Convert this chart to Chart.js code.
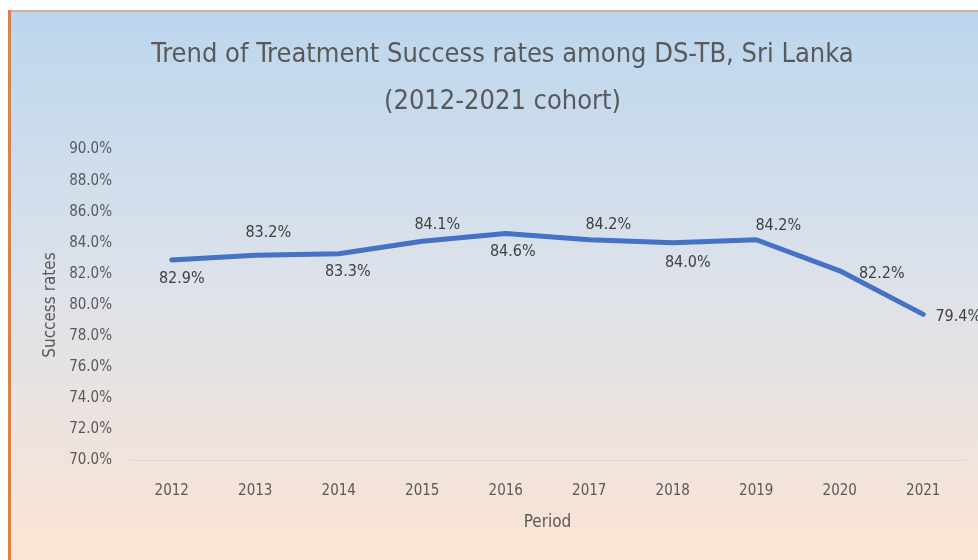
<!DOCTYPE html>
<html>
<head>
<meta charset="utf-8">
<script src="https://cdn.jsdelivr.net/npm/chart.js@4"></script>
<style>
  html, body { margin: 0; padding: 0; background: #fff; }
  #wrap { width: 978px; height: 560px; }
</style>
</head>
<body>
<div id="wrap"><canvas id="trendChart" width="978" height="560"></canvas></div>
<script>
const years = ['2012', '2013', '2014', '2015', '2016', '2017', '2018', '2019', '2020', '2021'];
const successRates = [82.9, 83.2, 83.3, 84.1, 84.6, 84.2, 84.0, 84.2, 82.2, 79.4];
const yMin = 70, yMax = 90, yStep = 2;

// where each value label sits relative to its point (dx, dy)
const labelOffsets = [
    [10, 19], [13, -22], [9, 18], [15, -16], [7, 18],
    [19, -15], [15, 20], [22, -14], [42, 3], [35, 2]
];

const FONT = "'DejaVu Sans Condensed', 'Liberation Sans Narrow', sans-serif";
const TEXT = '#595959';

const backdrop = {
    id: 'backdrop',
    beforeDraw(chart) {
        const c = chart.ctx;
        const w = chart.width, h = chart.height;
        c.save();
        c.fillStyle = '#ffffff';
        c.fillRect(0, 0, w, h);
        const g = c.createLinearGradient(0, 10, 0, h);
        g.addColorStop(0, '#bcd6ee');
        g.addColorStop(0.5, '#dde2ea');
        g.addColorStop(1, '#fce4d4');
        c.fillStyle = g;
        c.fillRect(8, 10, w - 8, h - 10);
        c.fillStyle = '#ed7d31';
        c.fillRect(8, 10, 3, h - 10);
        c.fillStyle = 'rgba(237,125,49,0.45)';
        c.fillRect(8, 10, w - 8, 2);
        c.restore();
    }
};

const valueLabels = {
    id: 'valueLabels',
    afterDatasetsDraw(chart) {
        const c = chart.ctx;
        const meta = chart.getDatasetMeta(0);
        c.save();
        c.font = '16px ' + FONT;
        c.fillStyle = '#404040';
        c.textAlign = 'center';
        c.textBaseline = 'middle';
        meta.data.forEach((pt, i) => {
            const [dx, dy] = labelOffsets[i];
            c.fillText(successRates[i].toFixed(1) + '%', pt.x + dx, pt.y + dy);
        });
        c.restore();
    }
};

new Chart(document.getElementById('trendChart'), {
    type: 'line',
    data: {
        labels: years,
        datasets: [{
            label: 'Success rates',
            data: successRates,
            borderColor: '#4472c4',
            borderWidth: 5,
            pointRadius: 0,
            tension: 0,
            borderCapStyle: 'round',
            borderJoinStyle: 'round'
        }]
    },
    options: {
        responsive: false,
        animation: false,
        layout: { padding: { left: 40, right: 13, top: 25, bottom: 27 } },
        plugins: {
            legend: { display: false },
            tooltip: { enabled: false },
            title: {
                display: true,
                text: ['Trend of Treatment Success rates among DS-TB, Sri Lanka', '(2012-2021 cohort)'],
                color: TEXT,
                font: { family: FONT, size: 27, weight: 'normal', lineHeight: 1.75 },
                padding: { top: 6, bottom: 24 }
            }
        },
        scales: {
            x: {
                offset: true,
                grid: { display: false, drawTicks: false },
                border: { display: true, color: '#d9d9d9', width: 1 },
                ticks: { color: TEXT, font: { family: FONT, size: 15 }, padding: 22 },
                title: {
                    display: true, text: 'Period', color: TEXT,
                    font: { family: FONT, size: 17 }, padding: { top: -10, bottom: 0 }
                }
            },
            y: {
                min: yMin, max: yMax,
                grid: { display: false, drawTicks: false },
                border: { display: false },
                ticks: {
                    stepSize: yStep, color: TEXT, padding: 18,
                    font: { family: FONT, size: 15 },
                    callback: v => v.toFixed(1) + '%'
                },
                title: {
                    display: true, text: 'Success rates', color: TEXT,
                    font: { family: FONT, size: 17 }, padding: { top: 0, bottom: 4 }
                },
                afterFit(scale) { scale.width = 90; }
            }
        }
    },
    plugins: [backdrop, valueLabels]
});
</script>
</body>
</html>
